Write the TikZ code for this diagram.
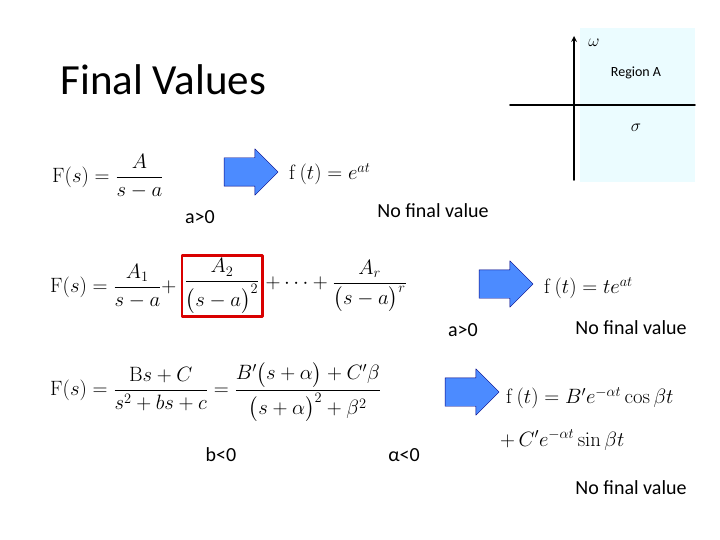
\documentclass[tikz,border=0pt]{standalone}
\usepackage{amsmath}
\usepackage[no-math]{fontspec}
\setmainfont{Carlito}
\usetikzlibrary{shapes.arrows}
\tikzset{
  bigarrow/.style={single arrow, draw=blue!50!black, fill=blue!65!cyan!70, minimum height=54pt, single arrow head extend=9pt, inner sep=0pt, text width=0pt, text height=28pt, text depth=0pt},
  eq/.style={anchor=west, font=\fontsize{21}{25}\selectfont, inner sep=0pt},
  note/.style={font=\fontsize{20}{24}\selectfont, inner sep=0pt}
}
\begin{document}
\begin{tikzpicture}[x=1pt, y=-1pt, line join=round, line cap=round]
        \useasboundingbox (0,0) rectangle (720,540);
        % title
        \node[anchor=west, font=\fontsize{43}{48}\selectfont] (title) at (57,80) {Final Values};
        % s-plane
        \fill[blue!12!cyan!8] (580,28) rectangle (695,182);
        \coordinate (ybot) at (574,180);
        \coordinate (ytop) at (574,36);
        \coordinate (xl) at (510,105);
        \coordinate (xr) at (695,105);
        \draw[line width=1.6pt, -stealth] (ybot) -- (ytop);
        \draw[line width=1.6pt] (xl) -- (xr);
        \node[font=\LARGE] (omega) at (594,43) {$\omega$};
        \node[font=\LARGE] (sigma) at (636,128) {$\sigma$};
        \node[font=\fontsize{14}{16}\selectfont] (region) at (636,73) {Region A};
        % row 1
        \node[eq] (f1) at (52,176) {$\mathrm{F}(s)=\dfrac{A}{s-a}$};
        \node[bigarrow] (arr1) at (244,172) {};
        \node[eq] (g1) at (289,174) {$\mathrm{f}\,(t)=e^{at}$};
        \node[note] (c1) at (200,217) {a>0};
        \node[note] (n1) at (433,211) {No final value};
        % row 2
        \node[eq] (f2a) at (50,286) {$\mathrm{F}(s)=\dfrac{A_1}{s-a}+$};
        \node[eq, draw=red!85!black, line width=2.5pt, inner sep=3pt, anchor=west] (f2b) at ([xshift=4pt]f2a.east) {$\dfrac{A_2}{\bigl(s-a\bigr)^2}$};
        \node[eq, anchor=west] (f2c) at ([xshift=2pt]f2b.east) {$+\cdots+\dfrac{A_r}{\bigl(s-a\bigr)^r}$};
        \node[bigarrow] (arr2) at (499,284) {};
        \node[eq] (g2) at (544,288) {$\mathrm{f}\,(t)=te^{at}$};
        \node[note] (c2) at (463,330) {a>0};
        \node[note] (n2) at (631,328) {No final value};
        % row 3
        \node[eq, font=\fontsize{19.5}{23}\selectfont] (f3) at (50,392) {$\mathrm{F}(s)=\dfrac{\mathrm{B}s+C}{s^2+bs+c}=\dfrac{B'\bigl(s+\alpha\bigr)+C'\beta}{\bigl(s+\alpha\bigr)^2+\beta^2}$};
        \node[bigarrow] (arr3) at (465,392) {};
        \node[eq, font=\fontsize{20}{24}\selectfont] (g3) at (506,398) {$\mathrm{f}\,(t)=B'e^{-\alpha t}\cos\beta t$};
        \node[eq, font=\fontsize{20}{24}\selectfont] (g3b) at (500,440) {$+\,C'e^{-\alpha t}\sin\beta t$};
        \node[note] (c3) at (221,455) {b<0};
        \node[note] (c4) at (404,455) {α<0};
        \node[note] (n3) at (631,488) {No final value};
\end{tikzpicture}
\end{document}
